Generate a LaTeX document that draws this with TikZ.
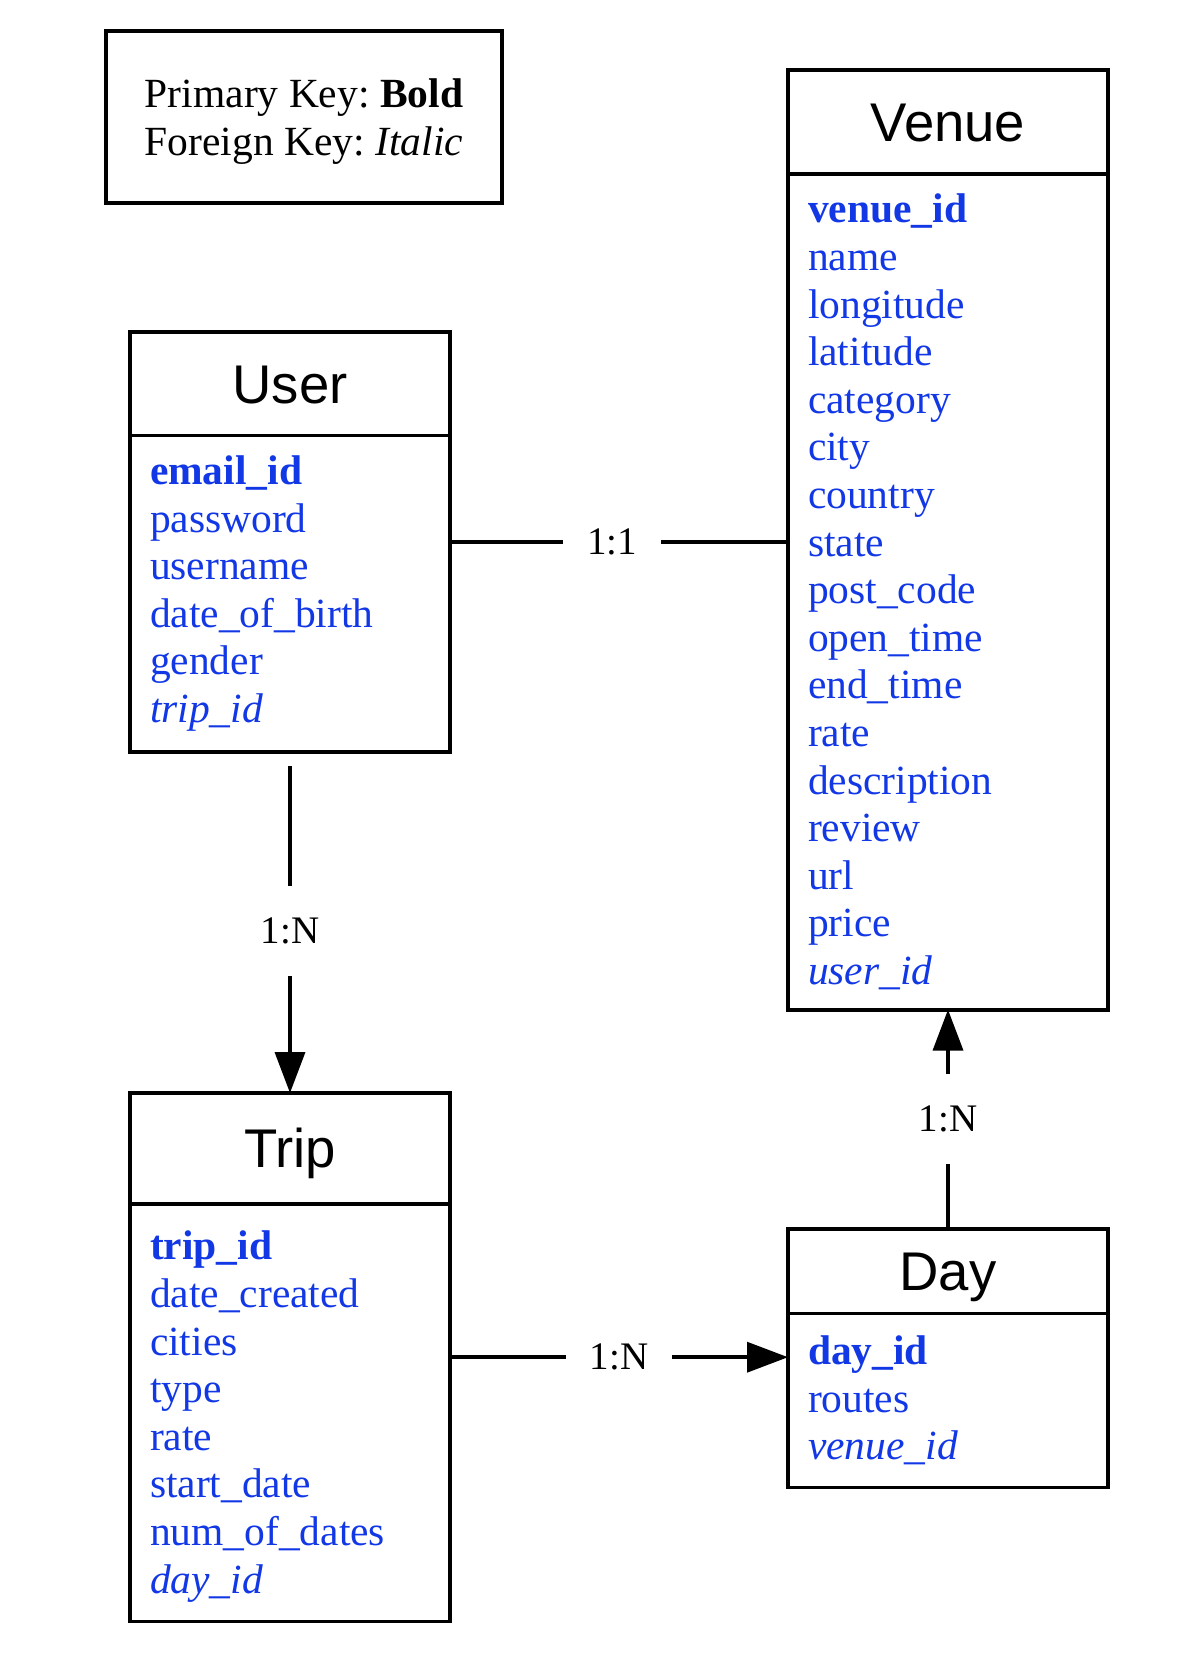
\documentclass[tikz,border=0pt]{standalone}
\usepackage{fontspec}
\setmainfont{Liberation Serif}
\setsansfont{Liberation Sans}
\usepackage{tikz}
\usetikzlibrary{arrows.meta,positioning,calc}
\usepackage{xcolor}
\frenchspacing
\definecolor{FieldBlue}{RGB}{18,56,230}
\newcommand{\fieldfont}{\fontsize{20.75pt}{23.8pt}\selectfont}
\newcommand{\enttitlefont}{\sffamily\fontsize{27.25pt}{30pt}\selectfont}
\newcommand{\relfont}{\fontsize{19.5pt}{22pt}\selectfont}
\newcommand{\pkey}[1]{\textbf{#1}}
\newcommand{\fkey}[1]{\textit{#1}}
\tikzset{
  ehead/.style={rectangle,draw=black,line width=1.9pt,outer sep=0pt,
                font=\enttitlefont,minimum width=160pt,
                text height=19.5pt,text depth=0pt,anchor=north west},
  ebody/.style={rectangle,draw=black,line width=1.9pt,outer sep=0pt,
                font=\fieldfont,text=FieldBlue,align=left,
                text width=140pt,inner xsep=10pt},
  keybox/.style={rectangle,draw=black,line width=1.9pt,font=\fieldfont,
                 align=left,minimum width=198pt,minimum height=86pt,
                 text depth=0pt},
  rlabel/.style={fill=white,font=\relfont,inner xsep=12pt,inner ysep=16pt},
  rline/.style={line width=1.8pt},
  rarrow/.style={rline,-{Triangle[length=20.5pt,width=15pt]}},
}

\begin{document}
\begin{tikzpicture}[x=0.5pt,y=-0.5pt]
  \useasboundingbox (0,0) rectangle (1181,1653);

  % legend
  \node[keybox] (legend) at (304,117)
    {Primary Key: \textbf{Bold}\\Foreign Key: \textit{Italic}};

  % entities
  \node[ehead,minimum height=51.7pt] (user) at (130,332) {User};
  \node[ebody,minimum height=158.2pt,below=0pt of user] (userf)
    {\pkey{email\_id}\\password\\username\\date\_of\_birth\\gender\\\fkey{trip\_id}};

  \node[ehead,minimum height=52.2pt] (venue) at (788,70) {Venue};
  \node[ebody,minimum height=417.6pt,below=0pt of venue] (venuef)
    {\pkey{venue\_id}\\name\\longitude\\latitude\\category\\city\\country\\state\\
     post\_code\\open\_time\\end\_time\\rate\\description\\review\\url\\price\\
     \fkey{user\_id}};

  \node[ehead,minimum height=55.4pt] (trip) at (130,1093) {Trip};
  \node[ebody,minimum height=208.8pt,text height=18.4pt,below=0pt of trip] (tripf)
    {\pkey{trip\_id}\\date\_created\\cities\\type\\rate\\start\_date\\
     num\_of\_dates\\\fkey{day\_id}};

  \node[ehead,minimum height=42.2pt] (day) at (788,1229) {Day};
  \node[ebody,minimum height=87pt,below=0pt of day] (dayf)
    {\pkey{day\_id}\\routes\\\fkey{venue\_id}};

  % relations
  \coordinate (urel) at ($(user.north east)!.5!(userf.south east)$);
  \coordinate (trel) at ($(trip.north east)!.5!(tripf.south east)$);
  \draw[rline] (urel) -- node[rlabel,pos=.48] {1:1} (urel -| venuef.west);
  \draw[rarrow,shorten <=7pt] (userf.south) -- node[rlabel,pos=.525] {1:N} (trip.north);
  \draw[rarrow] (day.north) -- node[rlabel] {1:N} (venuef.south);
  \draw[rarrow] (trel) -- node[rlabel] {1:N} (trel -| dayf.west);
\end{tikzpicture}
\end{document}
